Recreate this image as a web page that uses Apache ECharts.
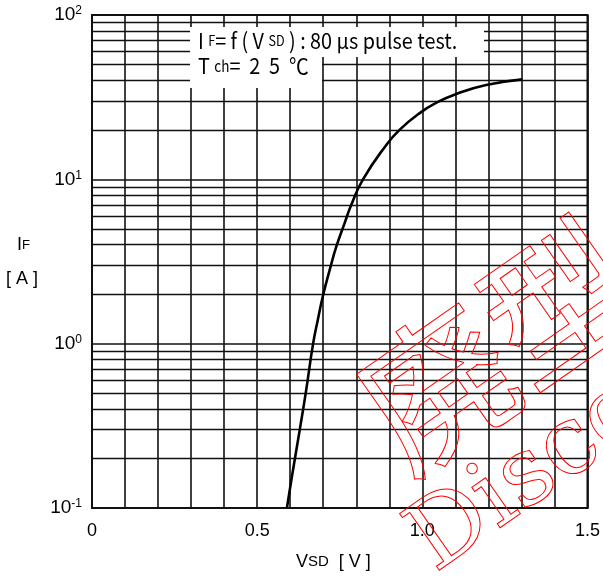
<!DOCTYPE html>
<html>
<head>
<meta charset="utf-8">
<script src="https://cdn.jsdelivr.net/npm/echarts@6/dist/echarts.min.js"></script>
<style>html,body{margin:0;padding:0;background:#fff;}#c{width:603px;height:576px;}</style>
</head>
<body>
<div id="c"></div>
<script>
// Data
const vsd = [0.59, 0.604, 0.629, 0.647, 0.669, 0.684, 0.699, 0.72, 0.74, 0.765, 0.785, 0.82, 0.891, 0.931, 0.992, 1.042, 1.103, 1.193, 1.303];
const iF  = [0.1, 0.15, 0.30, 0.5, 0.99, 1.41, 1.95, 2.83, 3.92, 5.43, 7.0, 9.96, 16.2, 20.0, 25.3, 29.2, 33.1, 37.5, 40.6];
const xTickLabels = ['0', '0.5', '1.0', '1.5'];
const yDecades = [0.1, 1, 10, 100];

const minorGrid = [];
for (const d of [0.1, 1, 10]) for (let k = 2; k <= 9; k++) minorGrid.push(+(d * k).toPrecision(3));

const chart = echarts.init(document.getElementById('c'));
const lineCol = '#111';
chart.setOption({
  animation: false,
  backgroundColor: '#fff',
  grid: { left: 92, right: 15, top: 15, bottom: 68, show: true, borderColor: lineCol, borderWidth: 2 },
  xAxis: {
    type: 'value', min: 0, max: 1.5, interval: 0.1,
    axisLine: { show: true, lineStyle: { color: lineCol, width: 2 } },
    axisTick: { show: false },
    splitLine: { show: true, lineStyle: { color: lineCol, width: 1.6 } },
    axisLabel: {
      margin: 14, color: '#000', fontSize: 18, fontFamily: 'Liberation Sans',
      formatter: v => {
        const i = Math.round(v * 10);
        return i % 5 === 0 ? xTickLabels[i / 5] : '';
      }
    }
  },
  yAxis: {
    type: 'log', logBase: 10, min: yDecades[0], max: yDecades[3],
    axisLine: { show: true, lineStyle: { color: lineCol, width: 2 } },
    axisTick: { show: false },
    splitLine: { show: true, lineStyle: { color: lineCol, width: 1.6 } },
    axisLabel: {
      margin: 10, color: '#000', fontFamily: 'Liberation Sans',
      formatter: v => {
        const e = Math.round(Math.log10(v));
        return '{b|10}{s|' + e + '}';
      },
      rich: {
        b: { fontSize: 19, fontFamily: 'Liberation Sans', color: '#000', lineHeight: 20 },
        s: { fontSize: 12, fontFamily: 'Liberation Sans', color: '#000', verticalAlign: 'top', lineHeight: 20, padding: [0, 0, 8, 0] }
      }
    }
  },
  series: [{
    type: 'line',
    data: vsd.map((v, i) => [v, iF[i]]),
    smooth: 0.5,
    symbol: 'none',
    lineStyle: { color: '#000', width: 2.6 },
    z: 5,
    markLine: {
      silent: true, symbol: 'none', label: { show: false },
      lineStyle: { color: lineCol, width: 1.4, type: 'solid' },
      data: minorGrid.map(v => ({ yAxis: v }))
    }
  }],
  graphic: [
    { type: 'rect', z: 50, shape: { x: 190, y: 27, width: 294, height: 30 }, style: { fill: '#fff' } },
    { type: 'rect', z: 50, shape: { x: 190, y: 55, width: 132, height: 33 }, style: { fill: '#fff' } },
    { type: 'text', z: 51, left: 198, top: 30, style: {
        text: '{a|I }{b|F}{a|= f ( V }{b|SD}{a| ) : 80 μs pulse test.}',
        rich: {
          a: { fontSize: 22, fontFamily: 'Noto Sans CJK JP', fill: '#000', lineHeight: 24 },
          b: { fontSize: 14, fontFamily: 'Noto Sans CJK JP', fill: '#000', lineHeight: 24 }
        } }, scaleX: 0.9 },
    { type: 'text', z: 51, left: 198, top: 55, style: {
        text: '{a|T }{b|ch}{a|=  2  5  ℃}',
        rich: {
          a: { fontSize: 22, fontFamily: 'Noto Sans CJK JP', fill: '#000', lineHeight: 24 },
          b: { fontSize: 15, fontFamily: 'Noto Sans CJK JP', fill: '#000', lineHeight: 24 }
        } }, scaleX: 0.9 },
    { type: 'text', z: 51, left: 17, top: 236, style: {
        text: '{a|I}{b|F}',
        rich: {
          a: { fontSize: 18, fontFamily: 'Liberation Sans', fill: '#000' },
          b: { fontSize: 13, fontFamily: 'Liberation Sans', fill: '#000' }
        } } },
    { type: 'text', z: 51, left: 6, top: 270, style: { text: '[ A ]', fontSize: 18, fontFamily: 'Liberation Sans', fill: '#000' } },
    { type: 'text', z: 51, left: 296, top: 553, style: {
        text: '{a|V}{b|SD}{a|  [ V ]}',
        rich: {
          a: { fontSize: 18, fontFamily: 'Liberation Sans', fill: '#000' },
          b: { fontSize: 15, fontFamily: 'Liberation Sans', fill: '#000' }
        } } },
    { type: 'text', z: 60, x: 448, y: 592, rotation: 0.61, style: {
        text: 'Discontinued', fontSize: 95, fontFamily: 'DejaVu Serif', fill: 'none', stroke: '#ff0000', lineWidth: 1, textVerticalAlign: 'bottom' } },
    { type: 'text', z: 60, x: 418, y: 492, rotation: 0.61, style: {
        text: '廃型', fontSize: 150, fontFamily: 'Noto Sans CJK JP', fill: 'none', stroke: '#ff0000', lineWidth: 1, textVerticalAlign: 'bottom' } }
  ]
});
</script>
</body>
</html>
